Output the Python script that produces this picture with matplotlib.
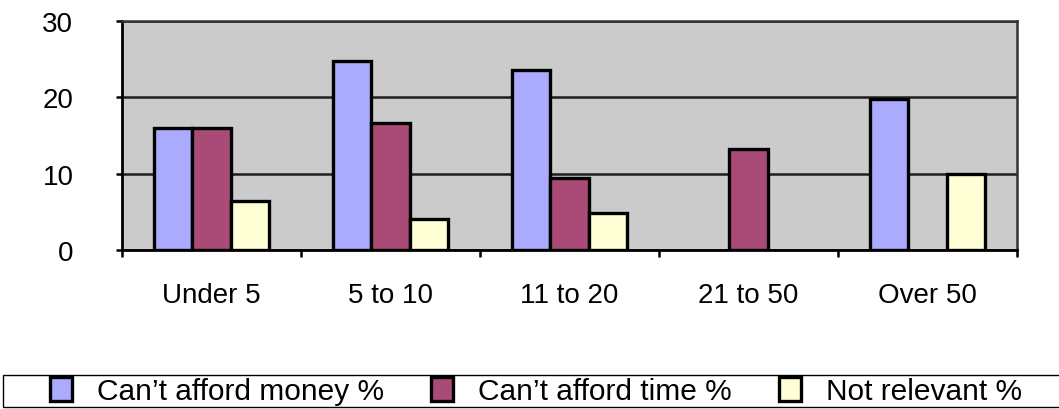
import numpy as np
import matplotlib
matplotlib.use("Agg")
import matplotlib.pyplot as plt
from matplotlib.patches import Rectangle

plt.rcParams['font.family'] = ['Liberation Sans', 'DejaVu Sans']

categories = ["Under 5", "5 to 10", "11 to 20", "21 to 50", "Over 50"]
money = [16.0, 24.8, 23.6, np.nan, 19.8]
time_ = [16.0, 16.6, 9.4, 13.2, np.nan]
not_relevant = [6.4, 4.1, 4.8, np.nan, 9.9]
series_names = ["Can\u2019t afford money %", "Can\u2019t afford time %", "Not relevant %"]
series_colors = ["#AAAAFF", "#AA4A77", "#FFFFD6"]
y_ticks = [0, 10, 20, 30]

W, H = 1059, 410
fig = plt.figure(figsize=(W / 100, H / 100), dpi=100)
ax = fig.add_axes([122 / W, 1 - 251 / H, (1017 - 122) / W, (251 - 22) / H])
ax.set_facecolor("#CBCBCB")

x = np.arange(len(categories))
bw = 0.215
handles = []
for i, (vals, name, col) in enumerate(zip([money, time_, not_relevant], series_names, series_colors)):
    vals = np.asarray(vals, dtype=float)
    keep = ~np.isnan(vals)
    b = ax.bar(x[keep] + (i - 1) * bw, vals[keep], width=bw, color=col,
               edgecolor="black", linewidth=2.4, label=name, zorder=3)
    handles.append(b)

ax.set_xlim(-0.5, len(categories) - 0.5)
ax.set_ylim(0, 30)

# horizontal gridlines
ax.set_yticks(y_ticks)
ax.yaxis.grid(True, color="#1e1e1e", linewidth=1.8, zorder=1)
ax.set_axisbelow(True)

# category labels centred, tick marks at category boundaries
ax.set_xticks(x)
ax.set_xticklabels(categories)
ax.set_xticks(np.arange(-0.5, len(categories)), minor=True)
ax.tick_params(axis="x", which="major", length=0, pad=23, labelsize=20)
ax.tick_params(axis="x", which="minor", length=5, width=1.8, direction="out", color="black")
ax.tick_params(axis="y", which="major", length=4, width=1.8, direction="out", pad=31,
               labelsize=20, color="black")

for side in ["left", "bottom"]:
    ax.spines[side].set_color("black")
    ax.spines[side].set_linewidth(2.0)
for side in ["top", "right"]:
    ax.spines[side].set_color("#333333")
    ax.spines[side].set_linewidth(1.8)

# legend strip along the bottom
fig.patches.append(Rectangle((3 / W, 2 / H), 1.2, 32 / H, transform=fig.transFigure,
                             facecolor="white", edgecolor="black", linewidth=1.0, zorder=0))
fig.legend(handles=handles, loc="center left", bbox_to_anchor=(49.5 / W, 1 - 392 / H),
           ncol=3, frameon=False, fontsize=21.5, borderpad=0, borderaxespad=0,
           handlelength=0.74, handleheight=0.87, handletextpad=0.85, columnspacing=1.56)

fig.savefig("out.png", dpi=100)
